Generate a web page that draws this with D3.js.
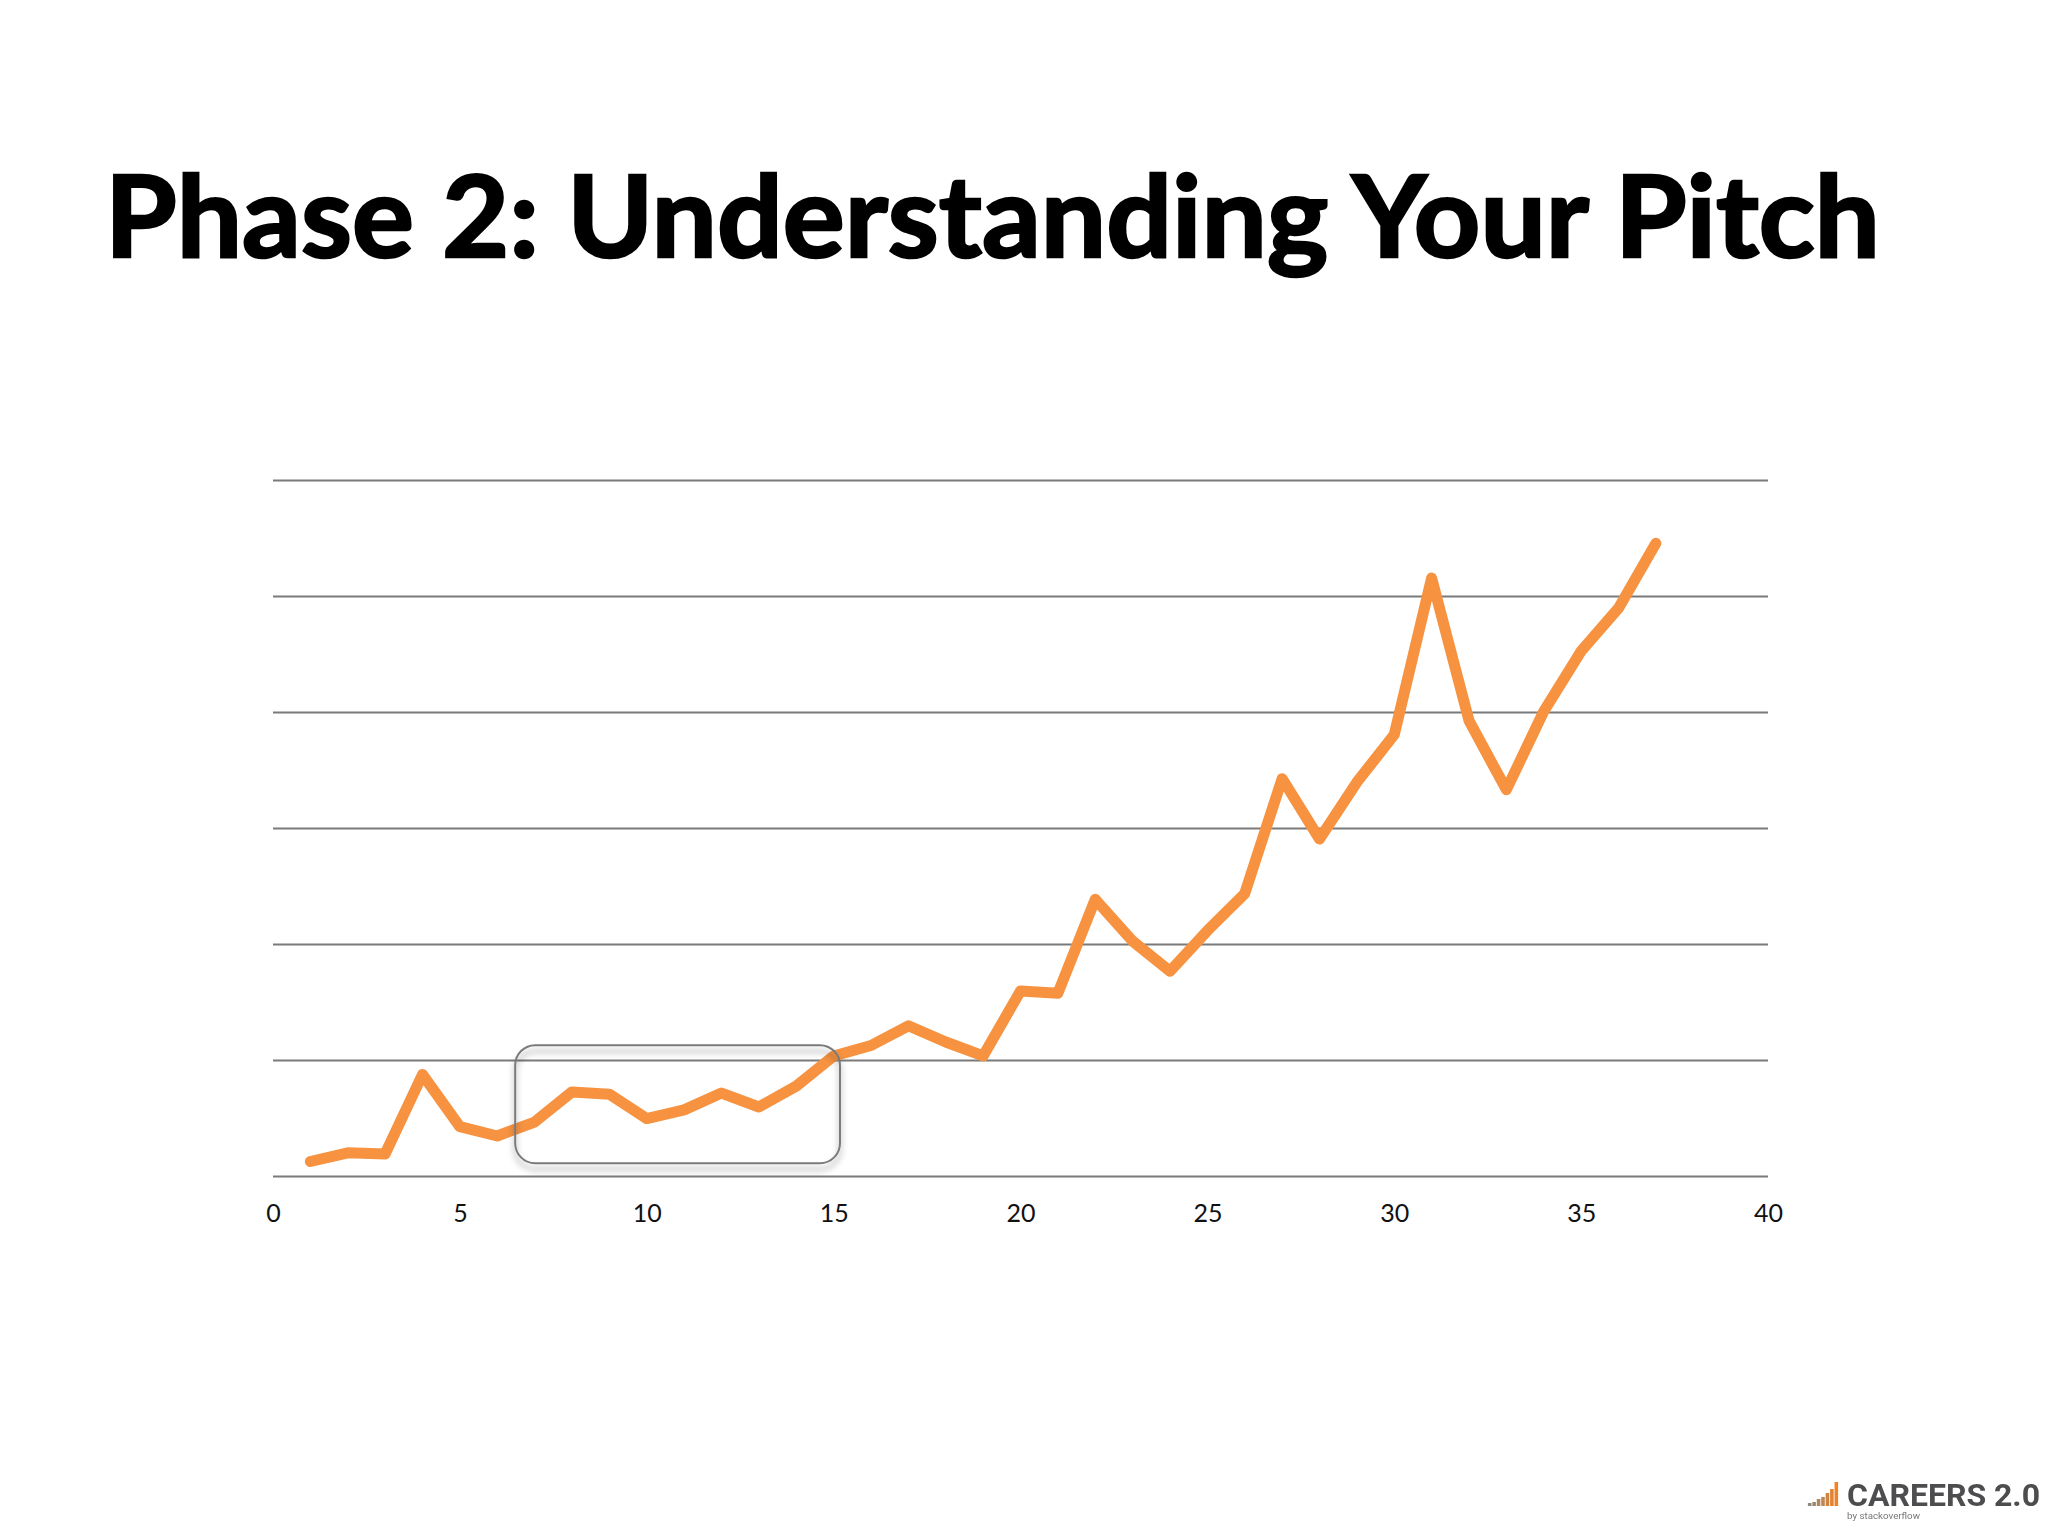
<!DOCTYPE html>
<html>
<head>
<meta charset="utf-8">
<script src="https://cdn.jsdelivr.net/npm/d3@7"></script>
<style>
html, body { margin: 0; padding: 0; background: #fff; }
svg { display: block; }
</style>
</head>
<body>
<svg id="chart" width="2048" height="1536"></svg>
<script>
var titleText = "Phase 2: Understanding Your Pitch";

// values, y axis has no labels so units are gridline steps
var xValues = [1,2,3,4,5,6,7,8,9,10,11,12,13,14,15,16,17,18,19,20,21,22,23,24,25,26,27,28,29,30,31,32,33,34,35,36,37];
var yValues = [0.125,0.2,0.19,0.875,0.425,0.345,0.465,0.725,0.705,0.495,0.57,0.715,0.595,0.775,1.035,1.125,1.295,1.155,1.035,1.595,1.575,2.385,2.025,1.765,2.115,2.435,3.425,2.905,3.395,3.805,5.155,3.925,3.33,4.005,4.525,4.895,5.455];
var xTicks = [0,5,10,15,20,25,30,35,40];
var yTicks = [0,1,2,3,4,5,6];

// the highlighted box around the flat part of the curve
var boxX = [6.48, 15.17];
var boxY = [0.11, 1.128];

var logoBars = [1,2,3,4,5,6,7];
var logoHeights = [3,4,7,9,13,17,24];

var margin = {top: 480, left: 273};
var width = 1495, height = 696;

var svg = d3.select("#chart");

var defs = svg.append("defs");
var shadow = defs.append("filter").attr("id", "boxShadow")
    .attr("x", "-5%").attr("y", "-15%").attr("width", "110%").attr("height", "130%");
shadow.append("feDropShadow")
    .attr("dx", 0).attr("dy", 6).attr("stdDeviation", 3)
    .attr("flood-color", "#000").attr("flood-opacity", 0.42);
defs.append("filter").attr("id", "logoBlur")
    .append("feGaussianBlur").attr("stdDeviation", 0.7);

svg.append("text")
    .attr("x", 105).attr("y", 257)
    .attr("textLength", 1775).attr("lengthAdjust", "spacingAndGlyphs")
    .style("font-family", "Lato, sans-serif")
    .style("font-weight", 700)
    .style("font-size", "113px")
    .style("fill", "#000")
    .style("stroke", "#000")
    .style("stroke-width", 2.5)
    .text(titleText);

var x = d3.scaleLinear().domain([0, 40]).range([0, width]);
var y = d3.scaleLinear().domain([0, 6]).range([height, 0]);

var g = svg.append("g").attr("transform", "translate(" + margin.left + "," + margin.top + ")");

var grid = g.append("g").call(d3.axisLeft(y).tickValues(yTicks).tickSize(-width).tickFormat(""));
grid.select(".domain").remove();
grid.selectAll("line").attr("stroke", "#7a7a7a").attr("stroke-width", 1.8);

var xAxis = g.append("g").attr("transform", "translate(0," + height + ")")
    .call(d3.axisBottom(x).tickValues(xTicks).tickSize(0).tickPadding(28));
xAxis.select(".domain").remove();
xAxis.selectAll("text")
    .style("font-family", "Lato, sans-serif")
    .style("font-size", "25px")
    .style("fill", "#111");

var line = d3.line()
    .x(function(d, i) { return x(xValues[i]); })
    .y(function(d) { return y(d); });

g.append("path")
    .datum(yValues)
    .attr("d", line)
    .attr("fill", "none")
    .attr("stroke", "#f69240")
    .attr("stroke-width", 11)
    .attr("stroke-linejoin", "round")
    .attr("stroke-linecap", "round");

g.append("rect")
    .attr("x", x(boxX[0]))
    .attr("y", y(boxY[1]))
    .attr("width", x(boxX[1]) - x(boxX[0]))
    .attr("height", y(boxY[0]) - y(boxY[1]))
    .attr("rx", 20)
    .attr("fill", "none")
    .attr("stroke", "#7a7a7a")
    .attr("stroke-width", 2)
    .attr("filter", "url(#boxShadow)");

// logo in the corner
var logo = svg.append("g").attr("filter", "url(#logoBlur)");
var logoX = d3.scaleBand().domain(logoBars).range([1807, 1839]).padding(0.2);
var logoY = d3.scaleLinear().domain([0, 24]).range([1506, 1482]);
var barColor = d3.scaleLinear().domain([1, 7]).range(["#8a8a80", "#f48024"]);

logo.selectAll("rect")
    .data(logoBars)
    .enter().append("rect")
    .attr("x", function(d) { return logoX(d); })
    .attr("y", function(d, i) { return logoY(logoHeights[i]); })
    .attr("width", logoX.bandwidth())
    .attr("height", function(d, i) { return logoY(0) - logoY(logoHeights[i]); })
    .attr("fill", function(d) { return barColor(d); });

logo.append("text")
    .attr("x", 1847).attr("y", 1506)
    .attr("textLength", 193).attr("lengthAdjust", "spacingAndGlyphs")
    .style("font-family", "Roboto, sans-serif")
    .style("font-weight", 700)
    .style("font-size", "32px")
    .style("fill", "#4d4d4f")
    .text("CAREERS 2.0");

logo.append("text")
    .attr("x", 1847).attr("y", 1519)
    .attr("textLength", 73).attr("lengthAdjust", "spacingAndGlyphs")
    .style("font-family", "Roboto, sans-serif")
    .style("font-size", "9px")
    .style("fill", "#77777a")
    .text("by stackoverflow");
</script>
</body>
</html>
